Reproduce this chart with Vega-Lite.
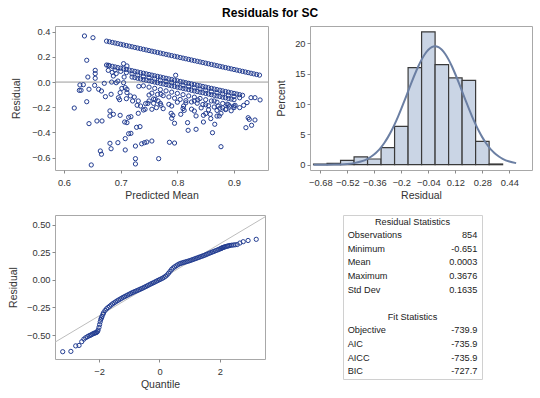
{
  "$schema": "https://vega.github.io/schema/vega-lite/v6.json",
  "background": "white",
  "padding": {"left": 7, "top": 6, "right": 5, "bottom": 5},
  "title": {"text": "Residuals for SC", "fontSize": 12, "fontWeight": "bold", "font": "Liberation Sans", "color": "#000000", "anchor": "middle", "offset": 6},
  "config": {
    "font": "Liberation Sans",
    "view": {"stroke": "#A8A8A8", "strokeWidth": 1},
    "axis": {"grid": false, "domain": false, "labelOverlap": false, "labelFlush": false, "tickColor": "#8A8A8A", "tickSize": 3, "labelFontSize": 9.3, "labelColor": "#333333", "titleFontSize": 10.5, "titleFontWeight": "normal", "titleColor": "#333333", "labelFont": "Liberation Sans", "titleFont": "Liberation Sans"},
    "axisX": {"labelPadding": 5, "titlePadding": 3},
    "axisY": {"labelPadding": 2, "titlePadding": 10.5}
  },
  "datasets": {
    "sc": [
      {"p":0.675,"r":0.325},{"p":0.68,"r":0.32},{"p":0.685,"r":0.315},{"p":0.69,"r":0.31},{"p":0.695,"r":0.305},{"p":0.7,"r":0.3},{"p":0.705,"r":0.295},{"p":0.71,"r":0.29},{"p":0.715,"r":0.285},{"p":0.72,"r":0.28},{"p":0.725,"r":0.275},{"p":0.73,"r":0.27},{"p":0.735,"r":0.265},{"p":0.74,"r":0.26},{"p":0.745,"r":0.255},{"p":0.75,"r":0.25},{"p":0.755,"r":0.245},{"p":0.76,"r":0.24},{"p":0.765,"r":0.235},{"p":0.77,"r":0.23},{"p":0.775,"r":0.225},{"p":0.78,"r":0.22},{"p":0.785,"r":0.215},{"p":0.79,"r":0.21},{"p":0.795,"r":0.205},{"p":0.8,"r":0.2},{"p":0.805,"r":0.195},{"p":0.81,"r":0.19},{"p":0.815,"r":0.185},{"p":0.82,"r":0.18},{"p":0.825,"r":0.175},{"p":0.83,"r":0.17},{"p":0.835,"r":0.165},{"p":0.84,"r":0.16},{"p":0.845,"r":0.155},{"p":0.85,"r":0.15},{"p":0.855,"r":0.145},{"p":0.86,"r":0.14},{"p":0.865,"r":0.135},{"p":0.87,"r":0.13},{"p":0.875,"r":0.125},{"p":0.88,"r":0.12},{"p":0.885,"r":0.115},{"p":0.89,"r":0.11},{"p":0.895,"r":0.105},{"p":0.9,"r":0.1},{"p":0.905,"r":0.095},{"p":0.91,"r":0.09},{"p":0.915,"r":0.085},{"p":0.92,"r":0.08},{"p":0.925,"r":0.075},{"p":0.93,"r":0.07},{"p":0.935,"r":0.065},{"p":0.94,"r":0.06},{"p":0.945,"r":0.055},
      {"p":0.675,"r":0.135},{"p":0.68,"r":0.13},{"p":0.685,"r":0.125},{"p":0.69,"r":0.12},{"p":0.695,"r":0.115},{"p":0.7,"r":0.11},{"p":0.705,"r":0.105},{"p":0.71,"r":0.1},{"p":0.715,"r":0.095},{"p":0.72,"r":0.09},{"p":0.725,"r":0.085},{"p":0.73,"r":0.08},{"p":0.735,"r":0.075},{"p":0.74,"r":0.07},{"p":0.745,"r":0.065},{"p":0.75,"r":0.06},{"p":0.755,"r":0.055},{"p":0.76,"r":0.05},{"p":0.765,"r":0.045},{"p":0.77,"r":0.04},{"p":0.775,"r":0.035},{"p":0.78,"r":0.03},{"p":0.785,"r":0.025},{"p":0.79,"r":0.02},{"p":0.795,"r":0.015},{"p":0.8,"r":0.01},{"p":0.805,"r":0.005},{"p":0.81,"r":0},{"p":0.815,"r":-0.005},{"p":0.82,"r":-0.01},{"p":0.825,"r":-0.015},{"p":0.83,"r":-0.02},{"p":0.835,"r":-0.025},{"p":0.84,"r":-0.03},{"p":0.845,"r":-0.035},{"p":0.85,"r":-0.04},{"p":0.855,"r":-0.045},{"p":0.86,"r":-0.05},{"p":0.865,"r":-0.055},{"p":0.87,"r":-0.06},{"p":0.875,"r":-0.065},{"p":0.88,"r":-0.07},{"p":0.885,"r":-0.075},{"p":0.89,"r":-0.08},{"p":0.895,"r":-0.085},{"p":0.9,"r":-0.09},{"p":0.905,"r":-0.095},{"p":0.91,"r":-0.1},{"p":0.915,"r":-0.105},
      {"p":0.69,"r":0.095},{"p":0.7,"r":0.085},{"p":0.71,"r":0.075},{"p":0.72,"r":0.065},{"p":0.73,"r":0.055},{"p":0.74,"r":0.045},{"p":0.75,"r":0.035},{"p":0.76,"r":0.025},{"p":0.77,"r":0.015},{"p":0.78,"r":0.005},{"p":0.79,"r":-0.005},{"p":0.8,"r":-0.015},{"p":0.81,"r":-0.025},{"p":0.82,"r":-0.035},{"p":0.83,"r":-0.045},{"p":0.84,"r":-0.055},{"p":0.85,"r":-0.065},{"p":0.86,"r":-0.075},{"p":0.87,"r":-0.085},{"p":0.88,"r":-0.095},{"p":0.89,"r":-0.105},{"p":0.9,"r":-0.115},{"p":0.91,"r":-0.125},
      {"p":0.72,"r":0.04},{"p":0.725,"r":0.035},{"p":0.73,"r":0.03},{"p":0.735,"r":0.025},{"p":0.74,"r":0.02},{"p":0.745,"r":0.015},{"p":0.75,"r":0.01},{"p":0.755,"r":0.005},{"p":0.76,"r":0},{"p":0.765,"r":-0.005},{"p":0.77,"r":-0.01},{"p":0.775,"r":-0.015},{"p":0.78,"r":-0.02},{"p":0.785,"r":-0.025},{"p":0.79,"r":-0.03},{"p":0.795,"r":-0.035},{"p":0.8,"r":-0.04},{"p":0.805,"r":-0.045},{"p":0.81,"r":-0.05},{"p":0.815,"r":-0.055},{"p":0.82,"r":-0.06},{"p":0.825,"r":-0.065},{"p":0.83,"r":-0.07},{"p":0.835,"r":-0.075},{"p":0.84,"r":-0.08},{"p":0.845,"r":-0.085},{"p":0.85,"r":-0.09},{"p":0.855,"r":-0.095},{"p":0.86,"r":-0.1},{"p":0.865,"r":-0.105},{"p":0.87,"r":-0.11},{"p":0.875,"r":-0.115},{"p":0.88,"r":-0.12},{"p":0.885,"r":-0.125},{"p":0.89,"r":-0.13},{"p":0.895,"r":-0.135},{"p":0.9,"r":-0.14},
      {"p":0.74,"r":-0.03},{"p":0.75,"r":-0.04},{"p":0.76,"r":-0.05},{"p":0.77,"r":-0.06},{"p":0.78,"r":-0.07},{"p":0.79,"r":-0.08},{"p":0.8,"r":-0.09},{"p":0.81,"r":-0.1},{"p":0.82,"r":-0.11},{"p":0.83,"r":-0.12},{"p":0.84,"r":-0.13},{"p":0.85,"r":-0.14},{"p":0.86,"r":-0.15},{"p":0.87,"r":-0.16},{"p":0.88,"r":-0.17},{"p":0.89,"r":-0.18},{"p":0.9,"r":-0.19},
      {"p":0.755,"r":-0.088},{"p":0.765,"r":-0.098},{"p":0.775,"r":-0.108},{"p":0.785,"r":-0.118},{"p":0.795,"r":-0.128},{"p":0.805,"r":-0.138},{"p":0.815,"r":-0.148},{"p":0.825,"r":-0.158},{"p":0.835,"r":-0.168},{"p":0.845,"r":-0.178},{"p":0.855,"r":-0.188},{"p":0.865,"r":-0.198},{"p":0.875,"r":-0.208},{"p":0.885,"r":-0.218},{"p":0.895,"r":-0.228},
      {"p":0.75,"r":-0.15},{"p":0.77,"r":-0.17},{"p":0.79,"r":-0.19},{"p":0.81,"r":-0.21},{"p":0.83,"r":-0.23},{"p":0.85,"r":-0.25},{"p":0.87,"r":-0.27},
      {"p":0.636,"r":0.366},{"p":0.651,"r":0.352},{"p":0.64,"r":0.173},{"p":0.705,"r":0.146},{"p":0.678,"r":0.133},{"p":0.655,"r":0.093},{"p":0.655,"r":0.067},{"p":0.642,"r":0.04},{"p":0.678,"r":0.093},{"p":0.687,"r":0.048},{"p":0.634,"r":-0.021},{"p":0.63,"r":-0.065},{"p":0.644,"r":-0.057},{"p":0.661,"r":-0.057},{"p":0.654,"r":-0.026},{"p":0.671,"r":-0.01},{"p":0.684,"r":0},{"p":0.695,"r":0.008},{"p":0.666,"r":-0.071},{"p":0.618,"r":-0.206},{"p":0.64,"r":-0.156},{"p":0.644,"r":-0.33},{"p":0.658,"r":-0.309},{"p":0.667,"r":-0.309},{"p":0.673,"r":-0.116},{"p":0.683,"r":-0.097},{"p":0.696,"r":-0.124},{"p":0.699,"r":-0.084},{"p":0.708,"r":-0.044},{"p":0.711,"r":-0.084},{"p":0.717,"r":-0.11},{"p":0.721,"r":-0.15},{"p":0.681,"r":-0.229},{"p":0.687,"r":-0.256},{"p":0.681,"r":-0.269},{"p":0.699,"r":-0.264},{"p":0.718,"r":-0.275},{"p":0.711,"r":-0.322},{"p":0.729,"r":-0.184},{"p":0.731,"r":-0.248},{"p":0.734,"r":-0.354},{"p":0.718,"r":-0.407},{"p":0.708,"r":-0.449},{"p":0.695,"r":-0.481},{"p":0.681,"r":-0.486},{"p":0.683,"r":-0.529},{"p":0.664,"r":-0.547},{"p":0.666,"r":-0.573},{"p":0.648,"r":-0.658},{"p":0.726,"r":-0.508},{"p":0.708,"r":-0.539},{"p":0.726,"r":-0.608},{"p":0.726,"r":-0.65},{"p":0.742,"r":-0.481},{"p":0.746,"r":-0.476},{"p":0.755,"r":-0.468},{"p":0.737,"r":-0.49},{"p":0.767,"r":-0.608},{"p":0.743,"r":-0.216},{"p":0.748,"r":-0.169},{"p":0.758,"r":-0.169},{"p":0.755,"r":-0.216},{"p":0.761,"r":-0.137},{"p":0.771,"r":-0.184},{"p":0.702,"r":-0.05},{"p":0.711,"r":-0.058},{"p":0.692,"r":-0.005},{"p":0.705,"r":-0.005},{"p":0.706,"r":0.04},{"p":0.724,"r":-0.119},{"p":0.731,"r":-0.15},{"p":0.735,"r":-0.19},{"p":0.744,"r":-0.171},{"p":0.75,"r":-0.103},{"p":0.758,"r":-0.134},{"p":0.766,"r":-0.15},{"p":0.771,"r":-0.097},{"p":0.732,"r":-0.034},{"p":0.685,"r":0.077},{"p":0.692,"r":0.067},{"p":0.711,"r":0.128},{"p":0.698,"r":-0.14},{"p":0.71,"r":-0.132},{"p":0.655,"r":0.03},{"p":0.628,"r":-0.023},{"p":0.627,"r":-0.066},{"p":0.785,"r":-0.177},{"p":0.775,"r":-0.211},{"p":0.763,"r":-0.203},{"p":0.74,"r":-0.222},{"p":0.714,"r":-0.28},{"p":0.707,"r":-0.317},{"p":0.728,"r":-0.359},{"p":0.714,"r":-0.41},{"p":0.786,"r":-0.478},{"p":0.795,"r":-0.484},
      {"p":0.797,"r":0.054},{"p":0.789,"r":-0.248},{"p":0.792,"r":-0.264},{"p":0.795,"r":-0.327},{"p":0.79,"r":-0.288},{"p":0.818,"r":-0.322},{"p":0.819,"r":-0.383},{"p":0.833,"r":-0.375},{"p":0.833,"r":-0.269},{"p":0.846,"r":-0.317},{"p":0.846,"r":-0.264},{"p":0.858,"r":-0.256},{"p":0.859,"r":-0.29},{"p":0.866,"r":-0.335},{"p":0.862,"r":-0.402},{"p":0.877,"r":-0.513},{"p":0.874,"r":-0.269},{"p":0.877,"r":-0.248},{"p":0.921,"r":-0.362},{"p":0.925,"r":-0.283},{"p":0.927,"r":-0.296},{"p":0.937,"r":-0.301},{"p":0.931,"r":-0.343},{"p":0.917,"r":-0.185},{"p":0.923,"r":-0.163},{"p":0.93,"r":-0.124},{"p":0.937,"r":-0.124},{"p":0.946,"r":-0.142},{"p":0.902,"r":-0.185},{"p":0.892,"r":-0.19},{"p":0.83,"r":-0.15},{"p":0.811,"r":-0.19},{"p":0.806,"r":-0.256},{"p":0.836,"r":-0.142},{"p":0.865,"r":-0.15},{"p":0.91,"r":-0.203},{"p":0.9,"r":-0.203},{"p":0.886,"r":-0.215},{"p":0.88,"r":-0.205},{"p":0.87,"r":-0.225},{"p":0.855,"r":-0.22},{"p":0.842,"r":-0.205},{"p":0.825,"r":-0.215},{"p":0.812,"r":-0.225},{"p":0.8,"r":-0.16},{"p":0.815,"r":-0.165},{"p":0.85,"r":-0.18},{"p":0.888,"r":-0.175},{"p":0.872,"r":-0.19}
    ],
    "hist": [
      {"lo":-0.72,"hi":-0.64,"pct":0.12},{"lo":-0.64,"hi":-0.56,"pct":0.23},{"lo":-0.56,"hi":-0.48,"pct":0.7},{"lo":-0.48,"hi":-0.4,"pct":1.29},{"lo":-0.4,"hi":-0.32,"pct":0.94},{"lo":-0.32,"hi":-0.24,"pct":2.81},{"lo":-0.24,"hi":-0.16,"pct":6.32},{"lo":-0.16,"hi":-0.08,"pct":16.0},{"lo":-0.08,"hi":0,"pct":21.9},{"lo":0,"hi":0.08,"pct":16.5},{"lo":0.08,"hi":0.16,"pct":14.3},{"lo":0.16,"hi":0.24,"pct":13.9},{"lo":0.24,"hi":0.32,"pct":3.86},{"lo":0.32,"hi":0.4,"pct":0.12}
    ],
    "norm": [
      {"v":-0.72,"d":0.001},{"v":-0.68,"d":0.003},{"v":-0.64,"d":0.009},{"v":-0.6,"d":0.023},{"v":-0.56,"d":0.055},{"v":-0.52,"d":0.124},{"v":-0.48,"d":0.262},{"v":-0.44,"d":0.522},{"v":-0.4,"d":0.978},{"v":-0.38,"d":1.31},{"v":-0.36,"d":1.729},{"v":-0.34,"d":2.247},{"v":-0.32,"d":2.876},{"v":-0.3,"d":3.627},{"v":-0.28,"d":4.505},{"v":-0.26,"d":5.512},{"v":-0.24,"d":6.647},{"v":-0.22,"d":7.894},{"v":-0.2,"d":9.237},{"v":-0.18,"d":10.65},{"v":-0.16,"d":12.09},{"v":-0.14,"d":13.53},{"v":-0.12,"d":14.91},{"v":-0.1,"d":16.19},{"v":-0.08,"d":17.32},{"v":-0.06,"d":18.25},{"v":-0.04,"d":18.94},{"v":-0.02,"d":19.37},{"v":0,"d":19.52},{"v":0.02,"d":19.37},{"v":0.04,"d":18.94},{"v":0.06,"d":18.25},{"v":0.08,"d":17.32},{"v":0.1,"d":16.19},{"v":0.12,"d":14.91},{"v":0.14,"d":13.53},{"v":0.16,"d":12.09},{"v":0.18,"d":10.65},{"v":0.2,"d":9.237},{"v":0.22,"d":7.894},{"v":0.24,"d":6.647},{"v":0.26,"d":5.512},{"v":0.28,"d":4.505},{"v":0.3,"d":3.627},{"v":0.32,"d":2.876},{"v":0.34,"d":2.247},{"v":0.36,"d":1.729},{"v":0.38,"d":1.31},{"v":0.4,"d":0.978},{"v":0.44,"d":0.522},{"v":0.48,"d":0.262}
    ],
    "qq": [
      {"q":-3.2,"r":-0.651},{"q":-2.93,"r":-0.648},{"q":-2.77,"r":-0.598},{"q":-2.66,"r":-0.594},{"q":-2.57,"r":-0.56},{"q":-2.5,"r":-0.537},{"q":-2.44,"r":-0.524},{"q":-2.38,"r":-0.514},{"q":-2.33,"r":-0.507},{"q":-2.29,"r":-0.502},{"q":-2.25,"r":-0.497},{"q":-2.21,"r":-0.49},{"q":-2.17,"r":-0.485},{"q":-2.14,"r":-0.482},{"q":-2.11,"r":-0.479},{"q":-2.08,"r":-0.476},{"q":-2.05,"r":-0.468},{"q":-2.03,"r":-0.455},{"q":-2.0,"r":-0.43},{"q":-1.98,"r":-0.405},{"q":-1.96,"r":-0.38},{"q":-1.94,"r":-0.358},{"q":-1.92,"r":-0.345},{"q":-1.9,"r":-0.332},{"q":-1.87,"r":-0.312},
      {"q":-1.85,"r":-0.298},{"q":-1.8,"r":-0.278},{"q":-1.75,"r":-0.262},{"q":-1.7,"r":-0.25},{"q":-1.65,"r":-0.239},{"q":-1.6,"r":-0.228},{"q":-1.55,"r":-0.217},{"q":-1.5,"r":-0.208},{"q":-1.45,"r":-0.199},{"q":-1.4,"r":-0.19},{"q":-1.35,"r":-0.182},{"q":-1.3,"r":-0.174},{"q":-1.25,"r":-0.166},{"q":-1.2,"r":-0.158},{"q":-1.15,"r":-0.151},{"q":-1.1,"r":-0.144},{"q":-1.05,"r":-0.137},{"q":-1.0,"r":-0.13},{"q":-0.95,"r":-0.123},{"q":-0.9,"r":-0.116},{"q":-0.85,"r":-0.11},{"q":-0.8,"r":-0.104},{"q":-0.75,"r":-0.098},{"q":-0.7,"r":-0.092},{"q":-0.65,"r":-0.086},{"q":-0.6,"r":-0.08},{"q":-0.55,"r":-0.074},{"q":-0.5,"r":-0.067},{"q":-0.45,"r":-0.06},{"q":-0.4,"r":-0.053},{"q":-0.35,"r":-0.046},{"q":-0.3,"r":-0.039},{"q":-0.25,"r":-0.032},{"q":-0.2,"r":-0.026},{"q":-0.15,"r":-0.019},{"q":-0.1,"r":-0.012},{"q":-0.05,"r":-0.005},{"q":0,"r":0.002},{"q":0.05,"r":0.008},{"q":0.1,"r":0.015},{"q":0.15,"r":0.023},{"q":0.2,"r":0.033},{"q":0.25,"r":0.044},{"q":0.3,"r":0.06},{"q":0.35,"r":0.077},{"q":0.4,"r":0.095},{"q":0.45,"r":0.108},{"q":0.5,"r":0.118},{"q":0.55,"r":0.127},{"q":0.6,"r":0.136},{"q":0.65,"r":0.144},{"q":0.7,"r":0.149},{"q":0.75,"r":0.154},{"q":0.8,"r":0.158},{"q":0.85,"r":0.162},{"q":0.9,"r":0.166},{"q":0.95,"r":0.17},{"q":1.0,"r":0.174},{"q":1.05,"r":0.179},{"q":1.1,"r":0.184},{"q":1.15,"r":0.189},{"q":1.2,"r":0.194},{"q":1.25,"r":0.199},{"q":1.3,"r":0.204},{"q":1.35,"r":0.209},{"q":1.4,"r":0.214},{"q":1.45,"r":0.219},{"q":1.5,"r":0.224},{"q":1.55,"r":0.23},{"q":1.6,"r":0.236},{"q":1.65,"r":0.242},{"q":1.7,"r":0.247},{"q":1.75,"r":0.253},{"q":1.8,"r":0.258},{"q":1.85,"r":0.264},{"q":1.9,"r":0.269},{"q":1.95,"r":0.275},
      {"q":2.0,"r":0.28},{"q":2.03,"r":0.284},{"q":2.05,"r":0.287},{"q":2.08,"r":0.291},{"q":2.11,"r":0.294},{"q":2.14,"r":0.297},{"q":2.17,"r":0.3},{"q":2.21,"r":0.303},{"q":2.25,"r":0.306},{"q":2.29,"r":0.309},{"q":2.33,"r":0.312},{"q":2.38,"r":0.314},{"q":2.44,"r":0.316},{"q":2.5,"r":0.318},{"q":2.57,"r":0.32},{"q":2.66,"r":0.334},{"q":2.77,"r":0.346},{"q":2.93,"r":0.357},{"q":3.2,"r":0.3676}
    ],
    "qqref": [{"q":-3.46,"r":-0.5654},{"q":3.49,"r":0.5709}],
    "thead": [{"row":0,"label":"Residual Statistics"},{"row":7,"label":"Fit Statistics"}],
    "tstat": [
      {"row":1,"label":"Observations","value":"854"},
      {"row":2,"label":"Minimum","value":"-0.651"},
      {"row":3,"label":"Mean","value":"0.0003"},
      {"row":4,"label":"Maximum","value":"0.3676"},
      {"row":5,"label":"Std Dev","value":"0.1635"},
      {"row":8,"label":"Objective","value":"-739.9"},
      {"row":9,"label":"AIC","value":"-735.9"},
      {"row":10,"label":"AICC","value":"-735.9"},
      {"row":11,"label":"BIC","value":"-727.7"}
    ]
  },
  "spacing": 12,
  "vconcat": [
    {
      "spacing": 6,
      "hconcat": [
        {
          "width": 213, "height": 144,
          "layer": [
            {
              "data": {"values": [{"zero": 0}]},
              "mark": {"type": "rule", "color": "#9A9A9A", "strokeWidth": 1},
              "encoding": {"y": {"field": "zero", "type": "quantitative", "title": "Residual"}}
            },
            {
              "data": {"name": "sc"},
              "mark": {"type": "point", "shape": "circle", "filled": false, "size": 18, "strokeWidth": 1, "color": "#233D91", "opacity": 1},
              "encoding": {
                "x": {"field": "p", "type": "quantitative", "scale": {"domain": [0.584, 0.96], "nice": false, "zero": false}, "axis": {"values": [0.6, 0.7, 0.8, 0.9], "tickCount": 20, "labelOverlap": false, "format": ".1f", "title": "Predicted Mean"}},
                "y": {"field": "r", "type": "quantitative", "title": "Residual", "scale": {"domain": [-0.698, 0.445], "nice": false, "zero": false}, "axis": {"values": [-0.6, -0.4, -0.2, 0, 0.2, 0.4], "tickCount": 20, "labelOverlap": false, "format": ".1f"}}
              }
            }
          ]
        },
        {
          "width": 222, "height": 144,
          "layer": [
            {
              "data": {"name": "hist"},
              "mark": {"type": "bar", "fill": "#CAD5E5", "stroke": "#3A3A3A", "strokeWidth": 1.2},
              "encoding": {
                "x": {"field": "lo", "type": "quantitative", "scale": {"domain": [-0.741, 0.574], "nice": false, "zero": false}, "axis": {"values": [-0.68, -0.52, -0.36, -0.2, -0.04, 0.12, 0.28, 0.44], "tickCount": 20, "labelOverlap": false, "format": ".2~f", "title": "Residual"}},
                "x2": {"field": "hi"},
                "y": {"field": "pct", "type": "quantitative", "scale": {"domain": [-0.87, 22.86], "nice": false, "zero": false}, "axis": {"values": [0, 5, 10, 15, 20], "tickCount": 20, "labelOverlap": false, "title": "Percent", "titlePadding": 8.2}},
                "y2": {"datum": 0}
              }
            },
            {
              "data": {"name": "norm"},
              "mark": {"type": "line", "color": "#6B7FA3", "strokeWidth": 2, "interpolate": "monotone"},
              "encoding": {
                "x": {"field": "v", "type": "quantitative"},
                "y": {"field": "d", "type": "quantitative"}
              }
            }
          ]
        }
      ]
    },
    {
      "spacing": 76,
      "hconcat": [
        {
          "width": 210, "height": 144,
          "layer": [
            {
              "data": {"name": "qqref"},
              "mark": {"type": "line", "color": "#BDBDBD", "strokeWidth": 1, "clip": true},
              "encoding": {
                "x": {"field": "q", "type": "quantitative", "title": "Quantile"},
                "y": {"field": "r", "type": "quantitative", "title": "Residual"}
              }
            },
            {
              "data": {"name": "qq"},
              "mark": {"type": "point", "shape": "circle", "filled": false, "size": 18, "strokeWidth": 1, "color": "#233D91", "opacity": 1},
              "encoding": {
                "x": {"field": "q", "type": "quantitative", "title": "Quantile", "scale": {"domain": [-3.455, 3.49], "nice": false, "zero": false}, "axis": {"values": [-2, 0, 2], "tickCount": 20, "labelOverlap": false, "format": ".0f"}},
                "y": {"field": "r", "type": "quantitative", "title": "Residual", "scale": {"domain": [-0.717, 0.588], "nice": false, "zero": false}, "axis": {"values": [-0.5, -0.25, 0, 0.25, 0.5], "tickCount": 20, "labelOverlap": false, "format": ".2f", "titlePadding": 8.3}}
              }
            }
          ]
        },
        {
          "width": 139, "height": 164,
          "view": {"stroke": "#D0D0D0"},
          "layer": [
            {
              "data": {"name": "thead"},
              "mark": {"type": "text", "align": "center", "baseline": "middle", "fontSize": 9.2, "color": "#222222"},
              "encoding": {
                "x": {"datum": 0.5, "type": "quantitative", "scale": {"domain": [-0.036, 1.036], "nice": false, "zero": false}, "axis": null},
                "y": {"field": "row", "type": "quantitative", "scale": {"domain": [-0.49, 11.57], "nice": false, "zero": false, "reverse": true}, "axis": null},
                "text": {"field": "label"}
              }
            },
            {
              "data": {"name": "tstat"},
              "mark": {"type": "text", "align": "left", "baseline": "middle", "fontSize": 9.2, "color": "#222222"},
              "encoding": {
                "x": {"datum": 0, "type": "quantitative"},
                "y": {"field": "row", "type": "quantitative"},
                "text": {"field": "label"}
              }
            },
            {
              "data": {"name": "tstat"},
              "mark": {"type": "text", "align": "right", "baseline": "middle", "fontSize": 9.2, "color": "#222222"},
              "encoding": {
                "x": {"datum": 1, "type": "quantitative"},
                "y": {"field": "row", "type": "quantitative"},
                "text": {"field": "value"}
              }
            }
          ]
        }
      ]
    }
  ]
}
